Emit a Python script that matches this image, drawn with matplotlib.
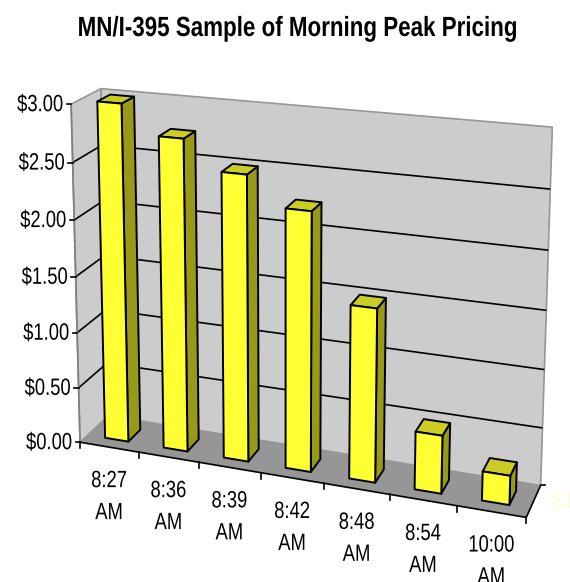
import numpy as np
import matplotlib
matplotlib.use('Agg')
import matplotlib.pyplot as plt
from matplotlib.patches import Polygon
from matplotlib.patheffects import AbstractPathEffect
from matplotlib.transforms import Affine2D

times = ['8:27', '8:36', '8:39', '8:42', '8:48', '8:54', '10:00']
prices = [3.00, 2.75, 2.50, 2.25, 1.50, 0.50, 0.25]
price_ticks = [0.0, 0.5, 1.0, 1.5, 2.0, 2.5, 3.0]

plt.rcParams['font.family'] = ['Liberation Sans', 'DejaVu Sans']

# camera fit: (category, price, depth) -> canvas position of known box edges
box_points = [
    (0, 0, 0, 81.0, 442.7), (7, 0, 0, 525.7, 517.3), (7, 0, 1, 541.7, 485.0),
    (0, 0, 1, 107.0, 415.0), (0, 3, 0, 71.0, 102.7), (0, 3, 1, 101.7, 89.3),
    (7, 3, 1, 552.7, 126.7), (0, 2.5, 0, 72.8, 163.0), (0, 2, 0, 73.5, 220.7),
    (0, 1.5, 0, 75.5, 276.7), (0, 0.5, 0, 79.0, 388.0), (7, 2.5, 1, 550.0, 189.0),
    (7, 2, 1, 548.0, 250.7), (7, 1.5, 1, 546.0, 310.0), (7, 1, 1, 544.0, 370.7),
    (7, 0.5, 1, 543.0, 427.7),
]
A, b = [], []
for X, Y, Z, u, v in box_points:
    A.append([X, Y, Z, 1, 0, 0, 0, 0, -u * X, -u * Y, -u * Z])
    A.append([0, 0, 0, 0, X, Y, Z, 1, -v * X, -v * Y, -v * Z])
    b += [u, v]
cam = np.append(np.linalg.lstsq(np.array(A), np.array(b), rcond=None)[0], 1).reshape(3, 4)


class Narrow(AbstractPathEffect):
    # condensed lettering: squeezes the glyph outlines sideways around the anchor
    def __init__(self, anchor, factor):
        super().__init__()
        self.anchor = anchor
        self.factor = factor

    def draw_path(self, renderer, gc, tpath, affine, rgbFace=None):
        squeeze = Affine2D().translate(-self.anchor, 0).scale(self.factor, 1).translate(self.anchor, 0)
        renderer.draw_path(gc, tpath, affine + squeeze, rgbFace)


def proj(x, y, z):
    u, v, w = cam @ np.array([x, y, z, 1.0])
    return u / w, v / w


def face(ax, pts, color, edge='black', lw=1.4, zorder=2):
    ax.add_patch(Polygon([proj(*p) for p in pts], closed=True, facecolor=color,
                         edgecolor=edge, linewidth=lw, joinstyle='round', zorder=zorder))


def seg(ax, p, q, color='black', lw=1.2, zorder=1.5):
    a, b_ = proj(*p), proj(*q)
    ax.plot([a[0], b_[0]], [a[1], b_[1]], color=color, lw=lw, zorder=zorder, solid_capstyle='butt')


def label(ax, x, y, s, ha='center', factor=0.78, **kw):
    kw.setdefault('fontsize', 17)
    ax.text(x, y, s, ha=ha, va='center', path_effects=[Narrow(x, factor)], **kw)


fig = plt.figure(figsize=(5.7, 5.82), dpi=100)
ax = fig.add_axes([0, 0, 1, 1])
ax.set_xlim(0, 570)
ax.set_ylim(582, 0)
ax.axis('off')

n = len(times)
top = price_ticks[-1]
wall_gray = '#cccccc'
edge_gray = '#969696'

# walls and floor
face(ax, [(0, 0, 1), (n, 0, 1), (n, top, 1), (0, top, 1)], wall_gray, edge_gray, 1.2, 1)
face(ax, [(0, 0, 0), (0, 0, 1), (0, top, 1), (0, top, 0)], wall_gray, edge_gray, 1.2, 1)
face(ax, [(0, 0, 0), (n, 0, 0), (n, 0, 1), (0, 0, 1)], '#969696', 'none', 0, 1.2)

# gridlines and value axis
for t in price_ticks[1:-1]:
    seg(ax, (0, t, 0), (0, t, 1))
    seg(ax, (0, t, 1), (n, t, 1))
seg(ax, (0, 0, 0), (0, top, 0), '#808080', 1.2)
for t in price_ticks:
    u, v = proj(0, t, 0)
    ax.plot([u - 4.5, u], [v, v], color='black', lw=1.2, zorder=1.5)
    label(ax, u - 8, v + 1, f'${t:.2f}', ha='right')

# floor edges and category ticks
seg(ax, (0, 0, 0), (n, 0, 0))
seg(ax, (n, 0, 0), (n, 0, 1))
u, v = proj(n, 0, 1)
ax.plot([u, u + 4.5], [v, v], color='black', lw=1.2, zorder=1.5)
for i in range(n + 1):
    u, v = proj(i, 0, 0)
    ax.plot([u, u], [v, v + 6], color='black', lw=1.2, zorder=1.5)

# bars
x0, x1 = 0.30, 0.70
z0, z1 = 0.27, 0.71
for i, p in enumerate(prices):
    l, r = i + x0, i + x1
    face(ax, [(r, 0, z0), (r, 0, z1), (r, p, z1), (r, p, z0)], '#999919', zorder=3)
    face(ax, [(l, p, z0), (r, p, z0), (r, p, z1), (l, p, z1)], '#cccc26', zorder=3)
    face(ax, [(l, 0, z0), (r, 0, z0), (r, p, z0), (l, p, z0)], '#ffff33', zorder=4)

for i, t in enumerate(times):
    u, v = proj(i + 0.5, 0, 0)
    label(ax, u, v + 34, t)
    label(ax, u, v + 66, 'AM')

label(ax, 551, 502, 'S1', ha='left', color='#fffbd9')
label(ax, 297.5, 29, 'MN/I-395 Sample of Morning Peak Pricing', factor=0.805, fontsize=20, fontweight='bold')

fig.savefig('out.png', dpi=100)
